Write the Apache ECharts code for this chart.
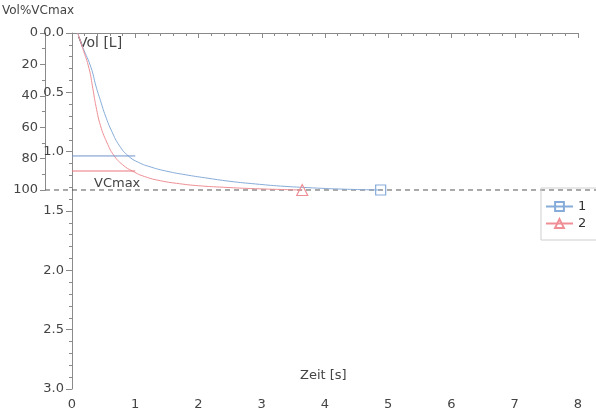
<!DOCTYPE html>
<html><head><meta charset="utf-8">
<script src="https://cdn.jsdelivr.net/npm/echarts@6/dist/echarts.min.js"></script>
<style>html,body{margin:0;padding:0;background:#fff}#c{width:596px;height:420px}</style>
</head><body><div id="c"></div>
<script>
// ---- data ----
const xTicks = [0, 1, 2, 3, 4, 5, 6, 7, 8];
const volTicks = [0.0, 0.5, 1.0, 1.5, 2.0, 2.5, 3.0];
const pctTicks = [0, 20, 40, 60, 80, 100];
const vcMax = 1.323;               // L
const seriesNames = ['1', '2'];
const blueTime = [0.09, 0.17, 0.30, 0.38, 0.45, 0.53, 0.63, 0.75, 0.89, 1.05, 1.25, 1.50, 1.80, 2.10, 2.50, 2.90, 3.30, 3.80, 4.30, 4.88];
const blueVol  = [0.00, 0.12, 0.29, 0.45, 0.57, 0.70, 0.83, 0.95, 1.036, 1.09, 1.13, 1.165, 1.195, 1.22, 1.25, 1.272, 1.29, 1.305, 1.316, 1.323];
const redTime  = [0.09, 0.17, 0.27, 0.33, 0.38, 0.45, 0.55, 0.66, 0.80, 0.96, 1.15, 1.40, 1.70, 2.00, 2.40, 2.90, 3.64];
const redVol   = [0.00, 0.13, 0.30, 0.47, 0.62, 0.78, 0.92, 1.03, 1.11, 1.165, 1.21, 1.245, 1.27, 1.287, 1.30, 1.312, 1.323];
const fev1Time = [0, 1];
const fev1Blue = 1.036;
const fev1Red  = 1.163;

// ---- build ----
const blueC = '#86acd9', redC = '#ef8f95';
const pair = (t, v) => t.map((x, i) => [x, v[i]]);
const blueData = pair(blueTime, blueVol);
const redData = pair(redTime, redVol);
const lastOnly = (n, s) => (v, p) => p.dataIndex === n - 1 ? s : 0;
const font = 'DejaVu Sans';
const labelColor = '#444';
const axisC = '#8a8a8a';

const chart = echarts.init(document.getElementById('c'), null, {renderer: 'canvas'});
chart.setOption({
  animation: false,
  backgroundColor: '#ffffff',
  textStyle: {fontFamily: font},
  grid: [
    {left: 72, top: 33, width: 506, height: 356, outerBoundsMode: 'none', containLabel: false},
    {left: 45, top: 33, width: 27, height: 157, outerBoundsMode: 'none', containLabel: false},
    {left: 45, top: 33, width: 551, height: 356, outerBoundsMode: 'none', containLabel: false}
  ],
  xAxis: [
    {gridIndex: 0, type: 'value', min: xTicks[0], max: xTicks[xTicks.length - 1], interval: 1,
     axisLine: {lineStyle: {color: axisC}},
     axisTick: {show: true, length: 5, lineStyle: {color: axisC}},
     minorTick: {show: true, splitNumber: 5, length: 3, lineStyle: {color: axisC}},
     axisLabel: {color: labelColor, fontSize: 13, margin: 9},
     splitLine: {show: false}},
    {gridIndex: 1, type: 'value', min: 0, max: 1, show: false},
    {gridIndex: 2, type: 'value', min: 0, max: 1, show: false}
  ],
  yAxis: [
    {gridIndex: 0, type: 'value', inverse: true, min: volTicks[0], max: volTicks[volTicks.length - 1], interval: 0.5,
     axisLine: {show: true, lineStyle: {color: axisC}},
     axisTick: {show: true, length: 6, lineStyle: {color: axisC}},
     minorTick: {show: true, splitNumber: 5, length: 3, lineStyle: {color: axisC}},
     axisLabel: {color: labelColor, fontSize: 13, margin: 8, formatter: v => v.toFixed(1)},
     splitLine: {show: false}},
    {gridIndex: 1, type: 'value', inverse: true, min: pctTicks[0], max: pctTicks[pctTicks.length - 1], interval: 20,
     position: 'left',
     axisLine: {show: true, onZero: false, lineStyle: {color: axisC}},
     axisTick: {show: true, length: 5, lineStyle: {color: axisC}},
     minorTick: {show: true, splitNumber: 2, length: 3, lineStyle: {color: axisC}},
     axisLabel: {color: labelColor, fontSize: 13, margin: 7},
     splitLine: {show: false}},
    {gridIndex: 2, type: 'value', inverse: true, min: volTicks[0], max: volTicks[volTicks.length - 1], show: false}
  ],
  legend: {
    orient: 'vertical', left: 541, top: 188,
    data: seriesNames,
    borderColor: '#cfcfcf', borderWidth: 1, borderRadius: 0,
    padding: [12, 22, 10, 4],
    itemWidth: 27, itemHeight: 11, itemGap: 4,
    textStyle: {color: '#333', fontSize: 13, fontFamily: font}
  },
  graphic: [
    {type: 'text', left: 2, top: 5, style: {text: 'Vol%VCmax', fill: labelColor, font: '12px "DejaVu Sans"'}},
    {type: 'text', left: 78, top: 36, style: {text: 'Vol [L]', fill: labelColor, font: '14px "DejaVu Sans"'}},
    {type: 'text', left: 94, top: 177, style: {text: 'VCmax', fill: labelColor, font: '13px "DejaVu Sans"'}},
    {type: 'text', left: 300, top: 369, style: {text: 'Zeit [s]', fill: labelColor, font: '13px "DejaVu Sans"'}}
  ],
  series: [
    {name: 'vcmax', type: 'line', xAxisIndex: 2, yAxisIndex: 2, data: [[0, vcMax], [1, vcMax]],
     symbol: 'none', silent: true, z: 1,
     lineStyle: {color: '#555', type: [5, 4], width: 1}},
    {name: seriesNames[0], type: 'line', xAxisIndex: 0, yAxisIndex: 0, data: blueData,
     smooth: 0.5, clip: false,
     symbol: 'rect', symbolSize: lastOnly(blueData.length, 10),
     lineStyle: {color: blueC, width: 1},
     itemStyle: {color: 'rgba(255,255,255,0)', borderColor: blueC, borderWidth: 1.2}},
    {name: seriesNames[1], type: 'line', xAxisIndex: 0, yAxisIndex: 0, data: redData,
     smooth: 0.5, clip: false,
     symbol: 'triangle', symbolSize: lastOnly(redData.length, 11),
     lineStyle: {color: redC, width: 1},
     itemStyle: {color: 'rgba(255,255,255,0)', borderColor: redC, borderWidth: 1.2}},
    {name: 'fev1b', type: 'line', data: fev1Time.map(t => [t, fev1Blue]), symbol: 'none',
     lineStyle: {color: '#6f93cc', width: 1}},
    {name: 'fev1r', type: 'line', data: fev1Time.map(t => [t, fev1Red]), symbol: 'none',
     lineStyle: {color: '#e9767e', width: 1.2}}
  ]
});
</script></body></html>
